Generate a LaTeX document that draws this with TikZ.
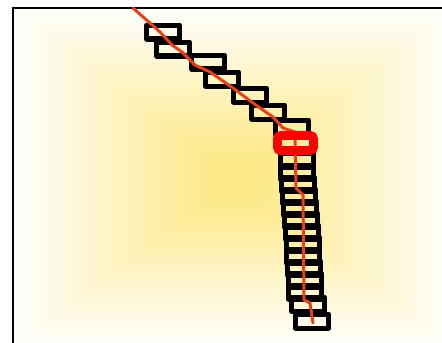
\documentclass[tikz,border=0pt]{standalone}
\usepackage{tikz}
\usetikzlibrary{calc}
\usepackage{xcolor}

\definecolor{bgyellow}{RGB}{252,228,112}
\definecolor{trackred}{RGB}{232,64,24}

\tikzset{
  posebox/.style={rectangle, draw=black, line width=2.85pt, line join=round,
    minimum width=0.66cm, minimum height=0.28cm, inner sep=0pt},
  currentbox/.style={rectangle, draw=red, line width=5.1pt, rounded corners=2pt,
    minimum width=0.72cm, minimum height=0.30cm, inner sep=0pt},
  track/.style={draw=trackred, line width=1.7pt, line join=round, line cap=round}
}

\begin{document}
\begin{tikzpicture}[x=0.02cm, y=-0.02cm]
  \clip (0,0) rectangle (442,342);
  \fill[white] (0,0) rectangle (442,342);

  % background glow
  \fill[bgyellow!5!white] (13,8) rectangle (450,350);
  \foreach \i in {0,...,19} {
    \pgfmathsetmacro{\w}{204-\i*9.5}
    \pgfmathsetmacro{\h}{158-\i*7.3}
    \pgfmathsetmacro{\p}{9+\i*4}
    \fill[bgyellow!\p!white] ($(234,178)+(-\w,-\h)$) rectangle ($(234,178)+(\w,\h)$);
  }
  \draw[line width=1.3pt] (13,350) -- (13,8) -- (450,8);

  % poses along the track
  \node (b1)  [posebox] at (163,32)  {};
  \node (b2)  [posebox] at (173,49)  {};
  \node (b3)  [posebox] at (208,62)  {};
  \node (b4)  [posebox] at (222,79)  {};
  \node (b5)  [posebox] at (250,95)  {};
  \node (b6)  [posebox] at (268,112) {};
  \node (b7)  [posebox] at (292,127) {};
  \node (b8)  [posebox] at (297,160) {};
  \node (b9)  [posebox] at (297,172) {};
  \node (b10) [posebox] at (298,184) {};
  \node (b11) [posebox] at (299,196) {};
  \node (b12) [posebox] at (300,208) {};
  \node (b13) [posebox] at (301,220) {};
  \node (b14) [posebox] at (302,232) {};
  \node (b15) [posebox] at (303,244) {};
  \node (b16) [posebox] at (303,256) {};
  \node (b17) [posebox] at (304,268) {};
  \node (b18) [posebox] at (305,280) {};
  \node (b19) [posebox] at (305,292) {};
  \node (b20) [posebox] at (308,304) {};
  \node (b21) [posebox] at (312,321) {};

  % track
  \draw[track] (133,8) -- (160,32) -- (172,45) -- (182,52) -- (195,65) -- (210,72)
    -- (233,88) -- (253,103) -- (273,117) -- (283,128) -- (295,132) -- (296,188)
    -- (303,195) -- (304,300) -- (310,303) -- (313,323);

  % current pose
  \node (cur) [currentbox] at (295.5,143) {};
\end{tikzpicture}
\end{document}
